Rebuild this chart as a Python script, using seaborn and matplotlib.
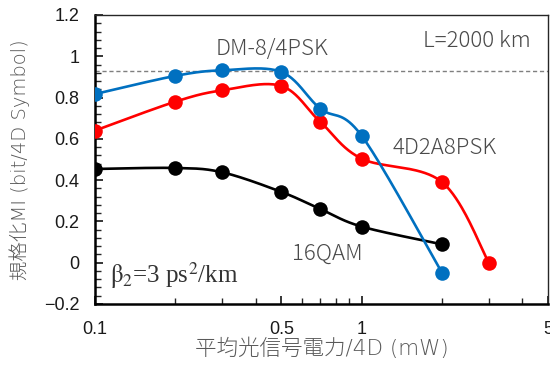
import numpy as np
import pandas as pd
import matplotlib
matplotlib.use("Agg")
import matplotlib.pyplot as plt
from matplotlib.ticker import FixedLocator, FixedFormatter, NullFormatter
import seaborn as sns

# Launch power per 4D symbol (mW) and normalized MI for each format
power_dm = [0.1, 0.2, 0.3, 0.5, 0.7, 1.0, 2.0]
mi_dm = [0.817, 0.905, 0.932, 0.924, 0.746, 0.615, -0.048]

power_4d2a = [0.1, 0.2, 0.3, 0.5, 0.7, 1.0, 2.0, 3.0]
mi_4d2a = [0.640, 0.780, 0.835, 0.856, 0.682, 0.504, 0.391, 0.0]

power_16qam = [0.1, 0.2, 0.3, 0.5, 0.7, 1.0, 2.0]
mi_16qam = [0.454, 0.459, 0.438, 0.343, 0.260, 0.175, 0.089]

ref_level = 0.93

x_major = [0.1, 0.5, 1, 5]
x_major_labels = ["0.1", "0.5", "1", "5"]
x_minor = [0.2, 0.3, 0.4, 0.6, 0.7, 0.8, 0.9, 2, 3, 4]
y_major = [-0.2, 0, 0.2, 0.4, 0.6, 0.8, 1.0, 1.2]
y_major_labels = ["\u22120.2", "0", "0.2", "0.4", "0.6", "0.8", "1", "1.2"]

sns.set_style("ticks")
plt.rcParams["font.family"] = ["Liberation Sans", "Noto Sans CJK JP", "DejaVu Sans"]
plt.rcParams["mathtext.fontset"] = "stix"

BLUE = "#0070C0"
RED = "#FF0000"
BLACK = "#000000"
TEXT = "#4a4a4a"
JP = ["Noto Sans CJK JP", "DejaVu Sans"]
JP_WIDE = ["DejaVu Sans", "Noto Sans CJK JP"]


def smooth(xs, ys, n=40):
    """Catmull-Rom style smoothing in (log10 x, y), like a spreadsheet smoothed line."""
    lx = np.log10(np.asarray(xs, float))
    y = np.asarray(ys, float)
    px = np.concatenate([[lx[0]], lx, [lx[-1]]])
    py = np.concatenate([[y[0]], y, [y[-1]]])
    outx, outy = [], []
    for i in range(1, len(px) - 2):
        p0 = np.array([px[i - 1], py[i - 1]])
        p1 = np.array([px[i], py[i]])
        p2 = np.array([px[i + 1], py[i + 1]])
        p3 = np.array([px[i + 2], py[i + 2]])
        c1 = p1 + (p2 - p0) / 6.0
        c2 = p2 - (p3 - p1) / 6.0
        t = np.linspace(0, 1, n)[:, None]
        b = ((1 - t) ** 3) * p1 + 3 * ((1 - t) ** 2) * t * c1 + 3 * (1 - t) * t ** 2 * c2 + t ** 3 * p2
        outx.extend(b[:, 0])
        outy.extend(b[:, 1])
    return 10 ** np.array(outx), np.array(outy)


fig = plt.figure(figsize=(5.5, 3.71), dpi=100)
ax = fig.add_axes([0.1727, 0.1806, 0.8237, 0.779])
ax.set_xscale("log")

ax.axhline(ref_level, color="#7f7f7f", lw=1.0, ls=(0, (3, 2)), zorder=1)

for xs, ys, col in [(power_16qam, mi_16qam, BLACK),
                    (power_4d2a, mi_4d2a, RED),
                    (power_dm, mi_dm, BLUE)]:
    sx, sy = smooth(xs, ys)
    curve = pd.DataFrame({"p": sx, "mi": sy})
    sns.lineplot(data=curve, x="p", y="mi", sort=False, color=col, lw=1.9,
                 ax=ax, zorder=2, estimator=None)
    pts = pd.DataFrame({"p": xs, "mi": ys})
    sns.scatterplot(data=pts, x="p", y="mi", color=col, s=110, edgecolor=col,
                    linewidth=0, ax=ax, zorder=3)

ax.set_xlim(0.1, 5)
ax.set_ylim(-0.2, 1.2)

ax.xaxis.set_major_locator(FixedLocator(x_major))
ax.xaxis.set_major_formatter(FixedFormatter(x_major_labels))
ax.xaxis.set_minor_locator(FixedLocator(x_minor))
ax.xaxis.set_minor_formatter(NullFormatter())
ax.yaxis.set_major_locator(FixedLocator(y_major))
ax.yaxis.set_major_formatter(FixedFormatter(y_major_labels))
ax.yaxis.set_minor_locator(FixedLocator(np.arange(-0.2, 1.2001, 0.04)))

ax.tick_params(axis="both", which="major", direction="in", length=6, width=1.3,
               labelsize=13, labelcolor="#1a1a1a")
ax.tick_params(axis="both", which="minor", direction="in", length=4, width=1.0)
ax.tick_params(axis="x", which="major", pad=12)
ax.tick_params(axis="y", which="major", pad=11)

for side in ["left", "bottom"]:
    ax.spines[side].set_linewidth(1.8)
    ax.spines[side].set_color("black")
for side in ["top", "right"]:
    ax.spines[side].set_linewidth(1.0)
    ax.spines[side].set_color("#262626")

ax.set_xlabel("平均光信号電力/4D (mW)", family=JP_WIDE, fontsize=15.5, color="#595959",
              fontweight="light", labelpad=0)
ax.set_ylabel("規格化MI (bit/4D Symbol)", family=JP_WIDE, fontsize=14, color="#595959",
              fontweight="light", labelpad=10)

for x, y, s in [(0.46, 1.033, "DM-8/4PSK"), (2.70, 1.074, "L=2000 km"),
                (2.05, 0.556, "4D2A8PSK"), (0.743, 0.045, "16QAM")]:
    ax.text(x, y, s, family=JP, fontsize=16, fontweight="light", color=TEXT,
            ha="center", va="center")
ax.text(0.1135, -0.10, r"$\mathrm{\beta}_2$=3 ps$^2$/km", family="Liberation Serif",
        fontsize=18, color="#333333", ha="left", va="baseline")

fig.savefig("out.png", dpi=100)
